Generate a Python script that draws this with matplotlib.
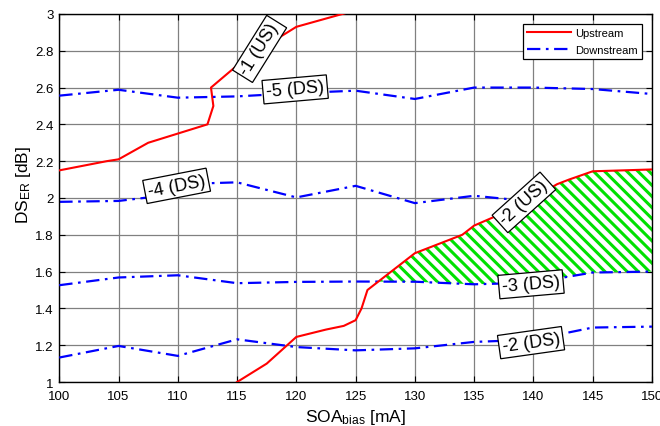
import numpy as np
import matplotlib.pyplot as plt

plt.rcParams['font.family'] = ['Liberation Sans', 'DejaVu Sans']
plt.rcParams['mathtext.default'] = 'regular'
plt.rcParams['hatch.linewidth'] = 2.2

# upstream contours
us1_x = [100, 104, 105, 107.5, 110, 112.5, 113, 112.8, 115, 117.5, 120, 125]
us1_y = [2.15, 2.20, 2.21, 2.30, 2.35, 2.40, 2.50, 2.60, 2.72, 2.83, 2.93, 3.02]
us2_x = [115, 117.5, 120, 122.5, 124, 125, 125.5, 126, 128, 130, 134, 135, 137.5, 140, 142, 143, 145, 150]
us2_y = [1.00, 1.10, 1.245, 1.285, 1.305, 1.336, 1.40, 1.50, 1.60, 1.70, 1.80, 1.85, 1.92, 2.00, 2.075, 2.10, 2.145, 2.155]

# downstream contours
ds_x = [100, 105, 110, 115, 120, 125, 130, 135, 140, 145, 150]
ds5 = [2.556, 2.588, 2.545, 2.552, 2.57, 2.583, 2.538, 2.60, 2.60, 2.592, 2.565]
ds4_x = [100, 105, 107.5, 112.5, 115, 120, 125, 130, 135, 140]
ds4 = [1.979, 1.984, 2.003, 2.08, 2.085, 2.003, 2.066, 1.972, 2.012, 1.98]
ds3 = [1.526, 1.568, 1.58, 1.537, 1.544, 1.546, 1.545, 1.531, 1.54, 1.595, 1.60]
ds2 = [1.133, 1.196, 1.142, 1.232, 1.19, 1.172, 1.183, 1.218, 1.23, 1.296, 1.301]

labels = ['-1 (US)', '-2 (US)', '-5 (DS)', '-4 (DS)', '-3 (DS)', '-2 (DS)']
label_x = [116.9, 139.2, 119.9, 109.9, 139.8, 139.8]
label_y = [2.81, 1.976, 2.59, 2.066, 1.531, 1.214]
label_rot = [58, 42, 5, 11, 5, 8]

fig = plt.figure(figsize=(6.6, 4.27), dpi=100)
ax = fig.add_axes([0.0898, 0.103, 0.898, 0.862])

dash = (0, (6, 2.5, 1.2, 2.5))
ax.plot(us1_x, us1_y, color='red', lw=1.5, label='Upstream', zorder=3)
ax.plot(ds_x, ds5, color='blue', lw=1.6, ls=dash, label='Downstream', zorder=3)
ax.plot(ds4_x, ds4, color='blue', lw=1.6, ls=dash, zorder=2)
ax.plot(ds_x, ds3, color='blue', lw=1.6, ls=dash, zorder=3)
ax.plot(ds_x, ds2, color='blue', lw=1.6, ls=dash, zorder=3)
ax.plot(us2_x, us2_y, color='red', lw=1.5, zorder=4)

# hatched region between -2 (US) and -3 (DS)
xs = np.linspace(100, 150, 1001)
top = np.interp(xs, us2_x, us2_y)
bot = np.interp(xs, ds_x, ds3)
ax.fill_between(xs, bot, top, where=top > bot, facecolor='white', edgecolor='#00e000',
                hatch='\\\\\\', linewidth=0, zorder=2.5)

for t, x, y, r in zip(labels, label_x, label_y, label_rot):
    ax.text(x, y, t, rotation=r, ha='center', va='center', fontsize=13, zorder=5,
            rotation_mode='anchor',
            bbox=dict(boxstyle='square,pad=0.18', facecolor='white', edgecolor='black', lw=0.9))

ax.set_xlim(100, 150)
ax.set_ylim(1, 3)
ax.set_xticks(range(100, 151, 5))
ax.set_yticks(np.arange(1, 3.01, 0.2))
ax.set_yticklabels(['1', '1.2', '1.4', '1.6', '1.8', '2', '2.2', '2.4', '2.6', '2.8', '3'])
ax.tick_params(direction='in', top=True, right=True, labelsize=9.5, length=4, pad=4)
ax.tick_params(axis='x', pad=6)
ax.grid(True, color='0.5', lw=0.9, zorder=0)
ax.set_axisbelow(True)
for s in ax.spines.values():
    s.set_linewidth(1.0)

ax.set_xlabel('SOA$_{bias}$ [mA]', fontsize=12.5, labelpad=3)
ax.set_ylabel('DS$_{ER}$ [dB]', fontsize=12.5)
ax.yaxis.set_label_coords(-0.045, 0.538)

leg = ax.legend(loc='upper right', fontsize=8, fancybox=False, edgecolor='black',
                framealpha=1, bbox_to_anchor=(0.983, 0.973), borderaxespad=0,
                handlelength=4, handletextpad=0.3, labelspacing=0.6)
leg.get_frame().set_linewidth(0.9)

fig.savefig('out.png', dpi=100)
